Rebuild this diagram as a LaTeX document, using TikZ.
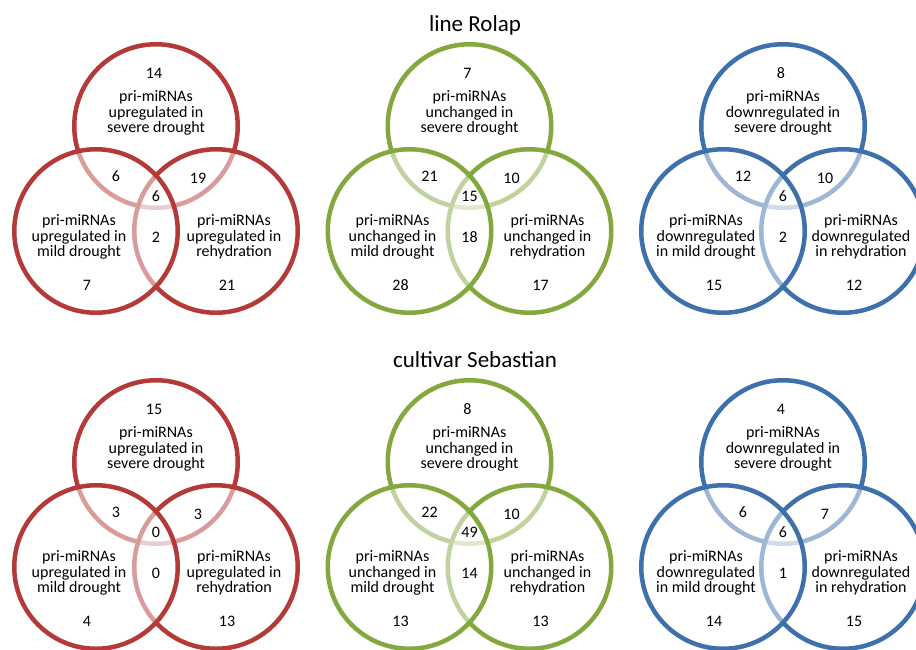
\documentclass[tikz,border=0pt]{standalone}
\usepackage{fontspec}
\setmainfont{Carlito}
\usetikzlibrary{positioning}

\definecolor{vennred}{RGB}{180,58,56}
\definecolor{venngreen}{RGB}{130,168,62}
\definecolor{vennblue}{RGB}{62,112,172}

\begin{document}
\begin{tikzpicture}[
    x=1pt,
    y=-1pt,
    ring/.style={circle, draw=#1, line width=4.5pt, fill=white,
                 fill opacity=0.5, minimum size=163.5pt, inner sep=0pt},
    vtext/.style={align=center, font=\fontsize{16}{15.5}\selectfont},
    vnum/.style={font=\fontsize{16}{15.5}\selectfont},
    heading/.style={font=\fontsize{23}{26}\selectfont},
]
    \useasboundingbox (0,0) rectangle (916,649);

    \node[heading] (rolap)     at (475,25)  {line Rolap};
    \node[heading] (sebastian) at (475,360) {cultivar Sebastian};

    % one entry per diagram: rings drawn top, right, left
    \foreach \c/\cx/\cy/\col/\word/\mild/\rehy/\nt/\ntl/\ntr/\nm/\nlr/\nl/\nr in {
        1/156/0/vennred/upregulated in/upregulated in\\mild drought/upregulated in\\rehydration/14/6/19/6/2/7/21,
        2/469.5/0/venngreen/unchanged in/unchanged in\\mild drought/unchanged in\\rehydration/7/21/10/15/18/28/17,
        3/783/0/vennblue/downregulated in/downregulated\\in mild drought/downregulated\\in rehydration/8/12/10/6/2/15/12,
        4/156/336/vennred/upregulated in/upregulated in\\mild drought/upregulated in\\rehydration/15/3/3/0/0/4/13,
        5/469.5/336/venngreen/unchanged in/unchanged in\\mild drought/unchanged in\\rehydration/8/22/10/49/14/13/13,
        6/783/336/vennblue/downregulated in/downregulated\\in mild drought/downregulated\\in rehydration/4/6/7/6/1/14/15%
    } {
        \begin{scope}[shift={(\cx,\cy)}]
            \node[ring=\col] (top\c)   at (0,126)   {};
            \node[ring=\col] (right\c) at (60,231)  {};
            \node[ring=\col] (left\c)  at (-60,231) {};

            \node[vtext] (toptext\c)   at (0,113)   {pri-miRNAs\\\word\\severe drought};
            \node[vtext] (lefttext\c)  at (-77,237) {pri-miRNAs\\\mild};
            \node[vtext] (righttext\c) at (78,237)  {pri-miRNAs\\\rehy};

            \node[vnum] (ntop\c)      at (-2,73)   {\nt};
            \node[vnum] (ntopleft\c)  at (-40,176) {\ntl};
            \node[vnum] (ntopright\c) at (42,178)  {\ntr};
            \node[vnum] (nmid\c)      at (0,196)   {\nm};
            \node[vnum] (nlowmid\c)   at (0,237)   {\nlr};
            \node[vnum] (nleft\c)     at (-69,285) {\nl};
            \node[vnum] (nright\c)    at (71,285)  {\nr};
        \end{scope}
    }
\end{tikzpicture}
\end{document}
